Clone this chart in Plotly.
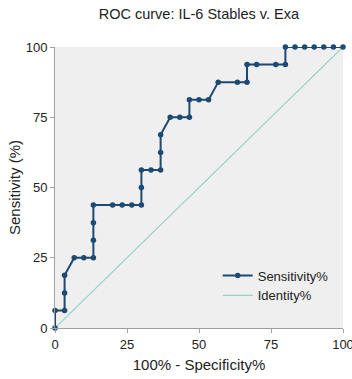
import plotly.graph_objects as go

# ROC curve points: 100% - Specificity% vs Sensitivity%
fpr = [0, 0, 3.33, 3.33, 3.33, 6.67, 10, 13.33, 13.33, 13.33, 13.33, 20, 23.33, 26.67,
       30, 30, 30, 33.33, 36.67, 36.67, 36.67, 40, 43.33, 46.67, 46.67, 50, 53.33,
       56.67, 63.33, 66.67, 66.67, 70, 76.67, 80, 80, 83.33, 86.67, 90, 93.33, 96.67, 100]
sens = [0, 6.25, 6.25, 12.5, 18.75, 25, 25, 25, 31.25, 37.5, 43.75, 43.75, 43.75, 43.75,
        43.75, 50, 56.25, 56.25, 56.25, 62.5, 68.75, 75, 75, 75, 81.25, 81.25, 81.25,
        87.5, 87.5, 87.5, 93.75, 93.75, 93.75, 93.75, 100, 100, 100, 100, 100, 100, 100]
identity_x = [0, 100]
identity_y = [0, 100]
ticks = [0, 25, 50, 75, 100]

navy = "#1d4a73"
teal = "#94d1c6"
font = "Liberation Sans, Arial, sans-serif"

fig = go.Figure()
fig.add_trace(go.Scatter(
    x=identity_x, y=identity_y, mode="lines", name="Identity%",
    line=dict(color=teal, width=1.2), cliponaxis=False,
))
fig.add_trace(go.Scatter(
    x=fpr, y=sens, mode="lines+markers", name="Sensitivity%",
    line=dict(color=navy, width=2), marker=dict(color=navy, size=5.5),
    cliponaxis=False,
))

axis_common = dict(
    range=[0, 100], tickvals=ticks, ticktext=[str(t) for t in ticks],
    showgrid=False, zeroline=False, showline=True, linecolor="#a0a0a0", linewidth=1,
    ticks="outside", ticklen=4, tickcolor="#a0a0a0", tickwidth=1,
    ticklabeloverflow="allow", automargin=False,
    tickfont=dict(family=font, size=13, color="#222"),
)

fig.update_layout(
    width=352, height=379,
    margin=dict(l=55, r=9, t=47, b=51),
    paper_bgcolor="white", plot_bgcolor="#efefef",
    title=dict(text="ROC curve: IL-6 Stables v. Exa", x=0.565, xanchor="center",
               y=0.963, yanchor="middle",
               font=dict(family=font, size=14.5, color="#222")),
    xaxis=dict(axis_common, title=dict(text="100% - Specificity%", standoff=8,
               font=dict(family=font, size=15, color="#222"))),
    yaxis=dict(axis_common, title=dict(text="Sensitivity (%)", standoff=1,
               font=dict(family=font, size=15, color="#222"))),
    legend=dict(x=0.565, y=0.24, xanchor="left", yanchor="top", traceorder="reversed",
                bgcolor="rgba(0,0,0,0)", font=dict(family=font, size=13, color="#222"),
                itemwidth=30),
    showlegend=True,
)

fig.write_html("out.html")
